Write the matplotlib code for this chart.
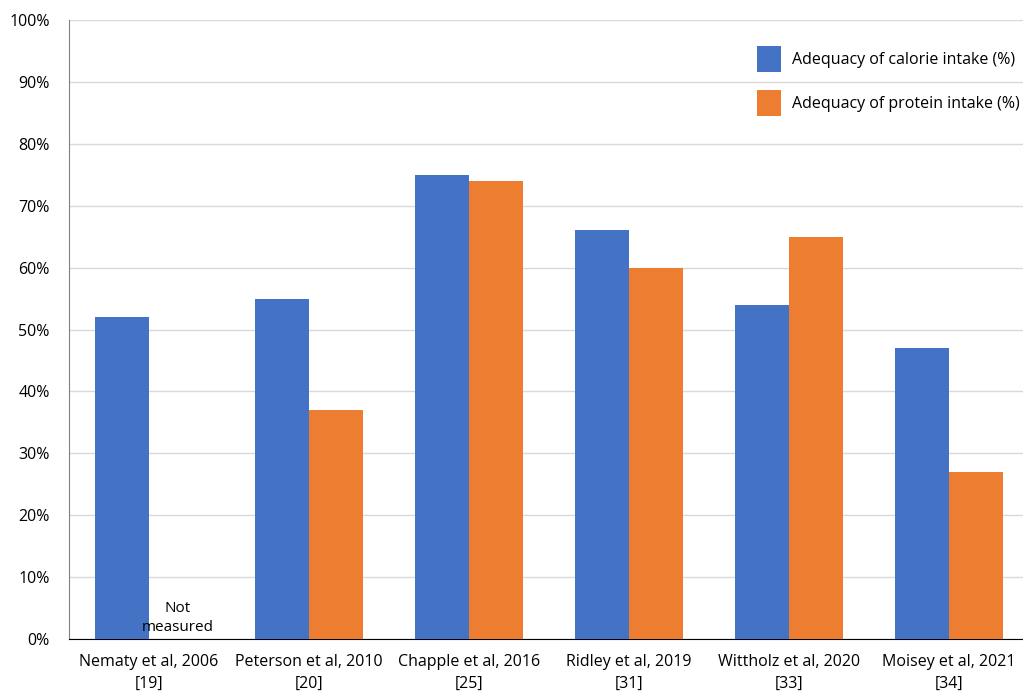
import numpy as np
import matplotlib.pyplot as plt
from matplotlib.ticker import PercentFormatter

studies = ["Nematy et al, 2006\n[19]", "Peterson et al, 2010\n[20]", "Chapple et al, 2016\n[25]",
           "Ridley et al, 2019\n[31]", "Wittholz et al, 2020\n[33]", "Moisey et al, 2021\n[34]"]
calorie = [52, 55, 75, 66, 54, 47]
protein = [np.nan, 37, 74, 60, 65, 27]

plt.rcParams['font.family'] = ['Open Sans', 'DejaVu Sans']

fig = plt.figure(figsize=(10.23, 6.92), dpi=100)
ax = fig.add_axes([69 / 1023, 53 / 692, 954 / 1023, 619 / 692])

x = np.arange(len(studies))
w = 54 / 160
ax.bar(x - w / 2, calorie, w, color='#4472C4', label='Adequacy of calorie intake (%)', zorder=3)
ax.bar(x + w / 2, protein, w, color='#ED7D31', label='Adequacy of protein intake (%)', zorder=3)

ax.text(0 + w / 2 + 0.01, 0.6, "Not\nmeasured", ha='center', va='bottom', fontsize=11, linespacing=1.35)

ax.set_xlim(-0.5, -0.5 + 954 / 160)
ax.set_ylim(0, 100)
ax.set_yticks(range(0, 101, 10))
ax.yaxis.set_major_formatter(PercentFormatter(decimals=0))
ax.set_xticks(x)
ax.set_xticklabels(studies, fontsize=11.5, linespacing=1.45)
ax.tick_params(axis='y', length=0, labelsize=11.5, pad=14)
ax.tick_params(axis='x', length=0, pad=11)
ax.grid(axis='y', color='#d9d9d9', linewidth=1, zorder=0)

for s in ['top', 'right']:
    ax.spines[s].set_visible(False)
ax.spines['left'].set_color('#808080')
ax.spines['bottom'].set_color('black')

ax.legend(loc='upper right', bbox_to_anchor=(1.0064, 0.9737), frameon=False, fontsize=11.5,
          handlelength=1.5, handleheight=2.125, labelspacing=1.15, handletextpad=0.69,
          borderaxespad=0.2)

fig.savefig("out.png", dpi=100)
